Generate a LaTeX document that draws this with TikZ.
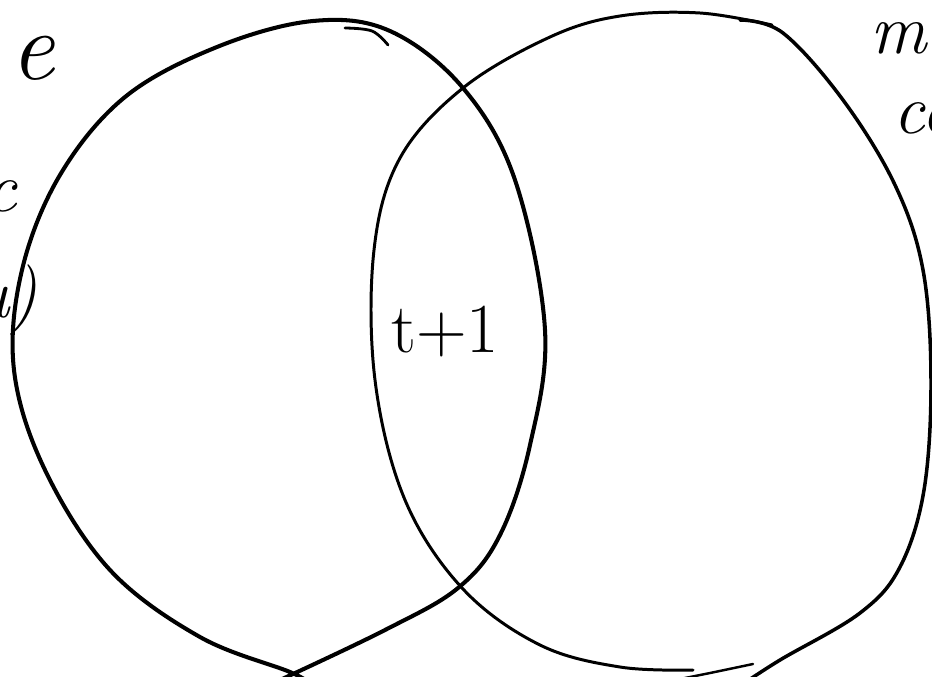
\documentclass[tikz,border=0pt]{standalone}
\usetikzlibrary{positioning}

\begin{document}
\begin{tikzpicture}[x=0.02cm,y=-0.02cm,
  setline/.style={line width=#1,line cap=round,line join=round},
  scrawl/.style={font=\fontsize{40}{46}\selectfont\itshape,inner sep=0pt}]
  \useasboundingbox (0,0) rectangle (932,676);
  \clip (0,0) rectangle (932,676);
  % left set
  \draw[setline=2.3pt] plot[smooth,tension=0.6] coordinates {
    (310,684) (290,672) (200,637) (110,570) (45,470) (14,370) (22,270)
    (60,175) (125,97) (217,47) (313,21) (390,31) (463,88) (515,180)
    (545,330) (530,445) (500,535) (458,588) (385,630) (280,680)};
  \draw[setline=1.6pt] plot[smooth,tension=0.6] coordinates {
    (345,28) (372,31) (388,45)};
  % right set
  \draw[setline=1.7pt] plot[smooth,tension=0.6] coordinates {
    (772,25) (700,13) (620,16) (550,37) (463,88) (400,158) (374,250)
    (375,380) (405,500) (463,589) (540,645) (620,667) (693,670)};
  \draw[setline=2pt] plot[smooth,tension=0.6] coordinates {
    (740,20) (783,33) (843,100) (895,185) (923,270) (931,380) (924,490)
    (900,567) (860,613) (780,660) (740,686)};
  \draw[setline=1.4pt] plot[smooth,tension=0.6] coordinates {
    (753,664) (710,673) (680,679)};
  % labels
  \node[font=\fontsize{40}{46}\selectfont] (inter) at (445,332) {t+1};
  \node[scrawl,anchor=east,font=\fontsize{56}{60}\selectfont\itshape] (word1) at (55,58) {e};
  \node[scrawl,anchor=east] (word2) at (17,196) {c};
  \node[scrawl,anchor=east] (word3) at (38,300) {u)};
  \node[scrawl,anchor=base west] (word4) at (870,53) {ma};
  \node[scrawl,anchor=base west] (word5) at (893,133) {co};
\end{tikzpicture}
\end{document}
